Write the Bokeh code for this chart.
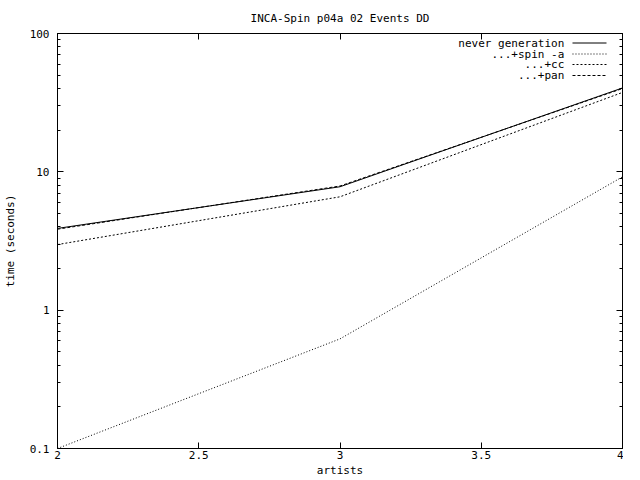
from bokeh.plotting import figure
from bokeh.models import (FixedTicker, LinearAxis, LogAxis, Label,
                          CustomJSTickFormatter, Range1d)
from bokeh.embed import file_html
from bokeh.resources import INLINE

# ---- data ----
artists = [2, 3, 4]
never_generation = [3.9, 7.8, 40.4]
spin_a = [0.1, 0.62, 9.2]
cc = [2.98, 6.6, 37.5]
pan = [3.85, 7.9, 40.0]

series_names = ["never generation", "...+spin -a", "...+cc", "...+pan"]
series_values = [never_generation, spin_a, cc, pan]
series_dash = ["solid", "1 2", "2 2", "3 2"]

x_ticks = [2, 2.5, 3, 3.5, 4]
y_ticks = [0.1, 1, 10, 100]
y_minor = [m * d for d in [0.1, 1, 10] for m in range(2, 10)]

FONT = "DejaVu Sans Mono"
FS = "11px"
FRAME_H = 415

p = figure(frame_width=565, frame_height=FRAME_H, y_axis_type="log",
           x_range=Range1d(2, 4), y_range=Range1d(0.1, 100),
           output_backend="svg", toolbar_location=None,
           title="INCA-Spin p04a 02 Events DD",
           min_border_left=50, min_border_right=1, min_border_top=33,
           min_border_bottom=10)

p.title.align = "center"
p.title.text_font = FONT
p.title.text_font_size = FS
p.title.text_font_style = "normal"
p.title.text_color = "black"
p.title.standoff = 18

p.xgrid.visible = False
p.ygrid.visible = False
p.outline_line_color = "black"
p.background_fill_color = "white"
p.border_fill_color = "white"

xt = FixedTicker(ticks=x_ticks, minor_ticks=[])
yt = FixedTicker(ticks=y_ticks, minor_ticks=y_minor)
yfmt = CustomJSTickFormatter(code="return tick < 1 ? tick.toFixed(1) : tick.toFixed(0);")
xfmt = CustomJSTickFormatter(code="return String(tick);")
blank = CustomJSTickFormatter(code="return '';")

def style(ax):
    ax.axis_line_color = "black"
    ax.major_tick_line_color = "black"
    ax.minor_tick_line_color = "black"
    ax.major_tick_in = 6
    ax.major_tick_out = 0
    ax.minor_tick_in = 3
    ax.minor_tick_out = 0
    ax.major_label_text_font = FONT
    ax.major_label_text_font_size = FS
    ax.major_label_text_color = "black"
    ax.axis_label_text_font = FONT
    ax.axis_label_text_font_size = FS
    ax.axis_label_text_font_style = "normal"
    ax.axis_label_text_color = "black"

xa = p.xaxis[0]
xa.ticker = xt
xa.formatter = xfmt
xa.axis_label = "artists"
style(xa)
xa.major_label_standoff = 2
xa.axis_label_standoff = 2

ya = p.yaxis[0]
ya.ticker = yt
ya.formatter = yfmt
ya.axis_label = "time (seconds)"
style(ya)
ya.major_label_standoff = 8
ya.axis_label_standoff = 10

top = LinearAxis(ticker=xt, formatter=blank)
style(top)
top.major_label_standoff = 0
p.add_layout(top, "above")
right = LogAxis(ticker=yt, formatter=blank)
style(right)
right.major_label_standoff = 0
p.add_layout(right, "right")

for name, vals, dash in zip(series_names, series_values, series_dash):
    p.line(artists, vals, line_color="black", line_width=1, line_dash=dash)

# ---- gnuplot-style key (text right-aligned, sample to the right) ----
x0, x1 = 2, 4
def xfrac(f):
    return x0 + f * (x1 - x0)
def yfrac_from_top(px, h=float(FRAME_H)):
    return 10 ** (2 - px / h * 3)

row_px = [9.5, 20.5, 31.0, 42.0]
for name, dash, rp in zip(series_names, series_dash, row_px):
    yv = yfrac_from_top(rp)
    p.add_layout(Label(x=xfrac(0.897), y=yv, text=name, text_align="right",
                       text_baseline="middle", text_font=FONT,
                       text_font_size=FS, text_color="black"))
    p.line([xfrac(0.9115), xfrac(0.9717)], [yv, yv], line_color="black",
           line_width=1, line_dash=dash)

open("out.html", "w").write(file_html(p, INLINE))
